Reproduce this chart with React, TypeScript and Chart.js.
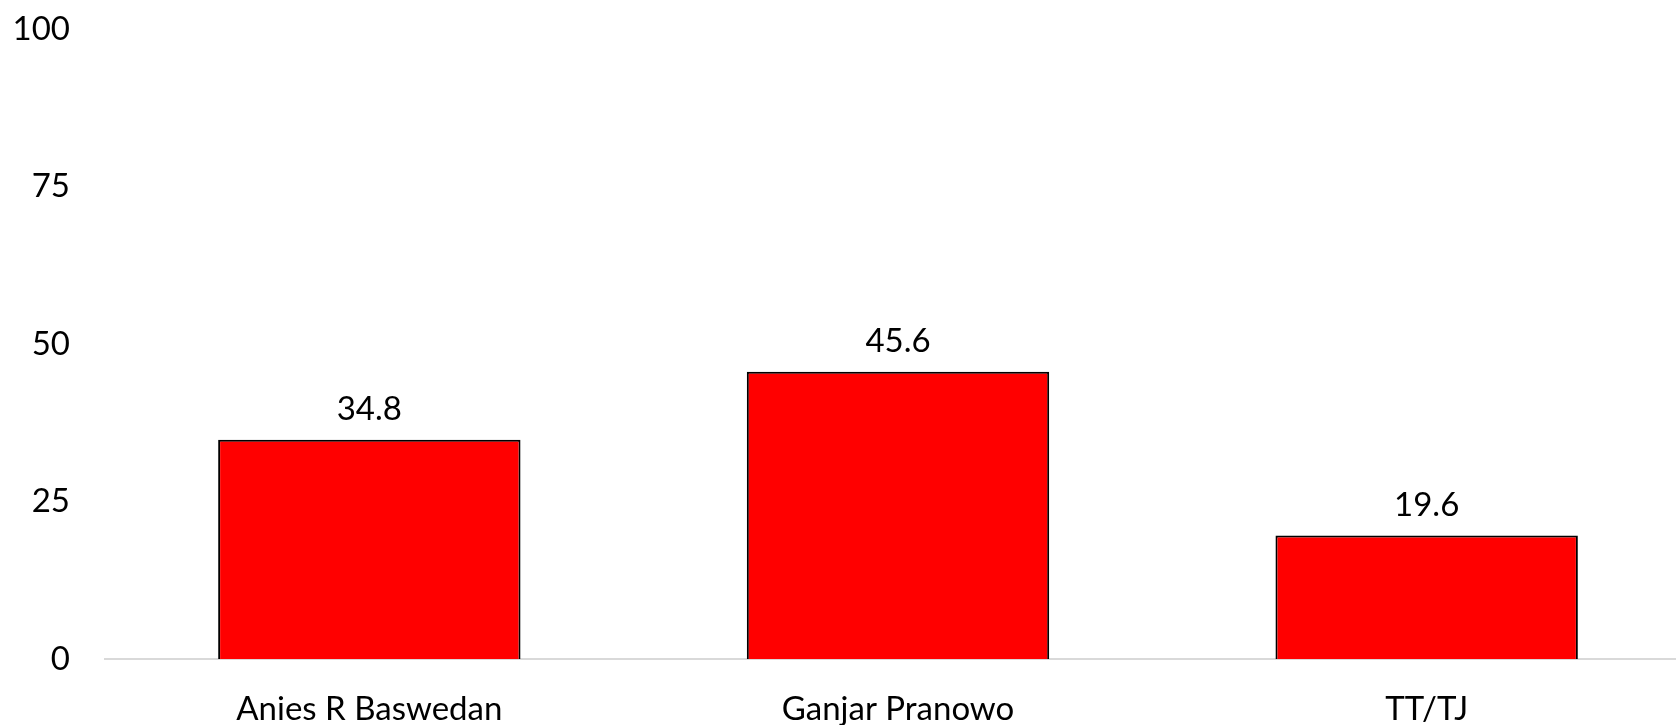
import React, { useEffect, useRef } from "react";
import { Chart, registerables } from "chart.js";

Chart.register(...registerables);

const categories = ["Anies R Baswedan", "Ganjar Pranowo", "TT/TJ"];
const values = [34.8, 45.6, 19.6];
const yTicks = [0, 25, 50, 75, 100];

const FONT = "Lato, 'Open Sans', sans-serif";

const valueLabels = {
  id: "valueLabels",
  afterDatasetsDraw(chart: any) {
    const ctx = chart.ctx;
    const meta = chart.getDatasetMeta(0);
    ctx.save();
    ctx.font = `33px ${FONT}`;
    ctx.fillStyle = "#000";
    ctx.textAlign = "center";
    ctx.textBaseline = "middle";
    meta.data.forEach((bar: any, i: number) => {
      ctx.fillText(String(values[i]), bar.x, bar.y - 30);
    });
    ctx.restore();
  },
};

export default function App() {
  const ref = useRef<HTMLCanvasElement>(null);
  useEffect(() => {
    if (!ref.current) return;
    const chart = new Chart(ref.current, {
      type: "bar",
      data: {
        labels: categories,
        datasets: [
          {
            data: values,
            backgroundColor: "#FF0000",
            borderColor: "#000000",
            borderWidth: 2,
            barPercentage: 1,
            categoryPercentage: 0.572,
          },
        ],
      },
      options: {
        responsive: false,
        animation: false,
        layout: { padding: { top: 29, left: 0, right: 0, bottom: 0 } },
        plugins: { legend: { display: false }, tooltip: { enabled: false } },
        scales: {
          x: {
            grid: { display: false, drawTicks: false },
            border: { display: true, color: "#d9d9d9", width: 2 },
            ticks: { color: "#000", font: { family: FONT, size: 33 }, padding: 31, maxRotation: 0 },
            afterFit(scale: any) {
              scale.height = 66;
              scale.paddingLeft = 0;
              scale.paddingRight = 0;
            },
          },
          y: {
            min: 0,
            max: 100,
            afterBuildTicks(scale: any) {
              scale.ticks = yTicks.map((v) => ({ value: v }));
            },
            grid: { display: false, drawTicks: false },
            border: { display: false },
            ticks: { color: "#000", font: { family: FONT, size: 33 }, padding: 35 },
            afterFit(scale: any) {
              scale.width = 105;
              scale.paddingTop = 0;
              scale.paddingBottom = 0;
            },
          },
        },
      },
      plugins: [valueLabels],
    });
    return () => chart.destroy();
  }, []);
  return (
    <div
      style={{
        position: "fixed",
        left: 0,
        top: 0,
        width: 1676,
        height: 725,
        overflow: "hidden",
        background: "#fff",
      }}
    >
      <canvas ref={ref} width={1691} height={725} style={{ display: "block" }} />
    </div>
  );
}
